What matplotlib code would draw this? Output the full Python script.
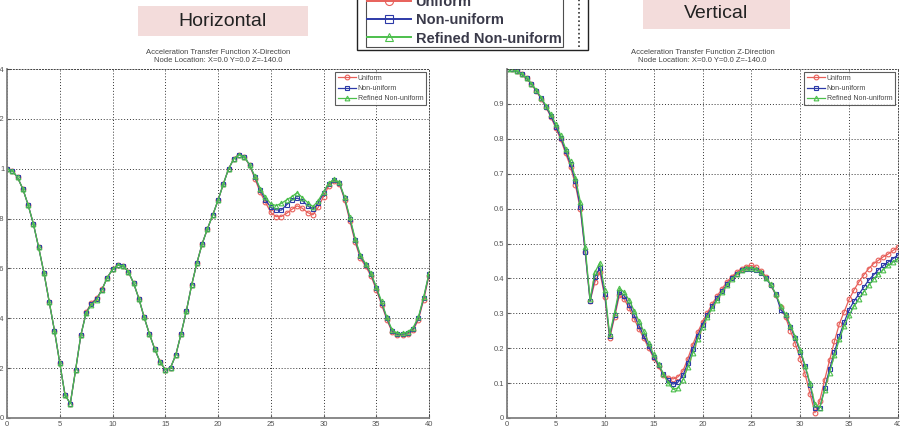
import matplotlib.pyplot as plt
from matplotlib.patches import Rectangle
from matplotlib.lines import Line2D
import numpy as np

plt.rcParams['font.family'] = ['Liberation Sans', 'DejaVu Sans']

# frequency axis (both panels)
x = np.arange(0, 40.5, 0.5)

# --- horizontal (X-direction) transfer function ---
hx_uniform = [1.0, 0.992, 0.965, 0.919, 0.855, 0.779, 0.684, 0.583, 0.466, 0.35,
              0.221, 0.092, 0.058, 0.192, 0.332, 0.425, 0.462, 0.48, 0.516, 0.563,
              0.596, 0.614, 0.61, 0.587, 0.541, 0.479, 0.404, 0.337, 0.277, 0.226,
              0.194, 0.202, 0.253, 0.338, 0.429, 0.533, 0.622, 0.699, 0.759, 0.814,
              0.873, 0.938, 0.999, 1.04, 1.057, 1.047, 1.013, 0.96, 0.905, 0.865,
              0.825, 0.808, 0.808, 0.821, 0.837, 0.851, 0.841, 0.824, 0.815, 0.845,
              0.888, 0.932, 0.952, 0.94, 0.876, 0.79, 0.705, 0.64, 0.608, 0.57,
              0.515, 0.455, 0.395, 0.345, 0.333, 0.332, 0.337, 0.352, 0.395, 0.475,
              0.57]
hx_nonuniform = [1.0, 0.992, 0.965, 0.919, 0.855, 0.779, 0.684, 0.583, 0.466, 0.35,
                 0.221, 0.092, 0.058, 0.192, 0.332, 0.422, 0.458, 0.477, 0.515, 0.563,
                 0.596, 0.614, 0.61, 0.587, 0.541, 0.479, 0.404, 0.337, 0.277, 0.226,
                 0.194, 0.202, 0.253, 0.338, 0.429, 0.533, 0.622, 0.699, 0.759, 0.814,
                 0.873, 0.938, 0.999, 1.04, 1.057, 1.047, 1.015, 0.966, 0.915, 0.875,
                 0.845, 0.835, 0.834, 0.855, 0.875, 0.882, 0.872, 0.851, 0.837, 0.861,
                 0.904, 0.94, 0.956, 0.943, 0.882, 0.8, 0.714, 0.648, 0.615, 0.577,
                 0.522, 0.463, 0.4, 0.35, 0.336, 0.336, 0.342, 0.358, 0.401, 0.482,
                 0.578]
hx_refined = [1.0, 0.992, 0.965, 0.919, 0.855, 0.779, 0.684, 0.583, 0.466, 0.35,
              0.221, 0.092, 0.058, 0.192, 0.332, 0.42, 0.454, 0.475, 0.514, 0.563,
              0.596, 0.614, 0.61, 0.587, 0.541, 0.479, 0.404, 0.337, 0.277, 0.226,
              0.194, 0.202, 0.253, 0.338, 0.429, 0.533, 0.622, 0.699, 0.759, 0.814,
              0.873, 0.938, 0.999, 1.04, 1.057, 1.047, 1.015, 0.969, 0.92, 0.885,
              0.86, 0.852, 0.861, 0.875, 0.888, 0.904, 0.884, 0.864, 0.848, 0.872,
              0.908, 0.942, 0.958, 0.945, 0.886, 0.805, 0.72, 0.653, 0.619, 0.581,
              0.527, 0.468, 0.404, 0.354, 0.339, 0.339, 0.346, 0.363, 0.406, 0.487,
              0.581]

# --- vertical (Z-direction) transfer function ---
vz_uniform = [1.0, 0.999, 0.993, 0.985, 0.973, 0.956, 0.936, 0.914, 0.89, 0.862,
              0.83, 0.798, 0.758, 0.72, 0.668, 0.598, 0.475, 0.335, 0.39, 0.418,
              0.348, 0.228, 0.288, 0.352, 0.34, 0.315, 0.285, 0.255, 0.228, 0.2,
              0.172, 0.148, 0.122, 0.115, 0.112, 0.118, 0.135, 0.17, 0.21, 0.245,
              0.275, 0.302, 0.327, 0.35, 0.37, 0.39, 0.405, 0.418, 0.428, 0.434,
              0.437, 0.432, 0.422, 0.405, 0.38, 0.352, 0.318, 0.288, 0.25, 0.212,
              0.17, 0.125, 0.07, 0.015, 0.05, 0.11, 0.165, 0.22, 0.27, 0.305,
              0.34, 0.367, 0.39, 0.41, 0.428, 0.442, 0.452, 0.462, 0.47, 0.48,
              0.49]
vz_nonuniform = [1.0, 0.999, 0.993, 0.985, 0.974, 0.957, 0.938, 0.916, 0.892, 0.865,
                 0.835, 0.803, 0.765, 0.727, 0.678, 0.605, 0.477, 0.335, 0.405, 0.43,
                 0.355, 0.235, 0.295, 0.362, 0.35, 0.325, 0.295, 0.265, 0.235, 0.205,
                 0.176, 0.152, 0.126, 0.108, 0.097, 0.103, 0.122, 0.158, 0.197, 0.235,
                 0.267, 0.295, 0.32, 0.343, 0.363, 0.383, 0.4, 0.414, 0.423, 0.428,
                 0.427, 0.425, 0.415, 0.4, 0.38, 0.355, 0.31, 0.295, 0.262, 0.228,
                 0.19, 0.148, 0.095, 0.03, 0.03, 0.085, 0.14, 0.19, 0.235, 0.275,
                 0.31, 0.335, 0.355, 0.375, 0.395, 0.41, 0.425, 0.437, 0.447, 0.457,
                 0.467]
vz_refined = [1.0, 0.999, 0.994, 0.986, 0.975, 0.958, 0.94, 0.918, 0.895, 0.87,
              0.842, 0.81, 0.772, 0.735, 0.688, 0.62, 0.49, 0.34, 0.418, 0.445,
              0.368, 0.24, 0.302, 0.372, 0.36, 0.338, 0.308, 0.278, 0.248, 0.215,
              0.182, 0.155, 0.127, 0.1, 0.082, 0.086, 0.11, 0.145, 0.185, 0.225,
              0.26, 0.29, 0.315, 0.338, 0.36, 0.38, 0.398, 0.412, 0.423, 0.43,
              0.43, 0.427, 0.418, 0.4, 0.383, 0.355, 0.322, 0.297, 0.265, 0.232,
              0.195, 0.15, 0.1, 0.04, 0.03, 0.08, 0.13, 0.18, 0.225, 0.265,
              0.295, 0.32, 0.342, 0.362, 0.38, 0.398, 0.413, 0.425, 0.437, 0.447,
              0.457]

labels = ['Uniform', 'Non-uniform', 'Refined Non-uniform']
colors = ['#e8605a', '#2d3aa8', '#4cbf4c']
markers = ['o', 's', '^']

W, H = 900, 434
fig = plt.figure(figsize=(9, 4.34), dpi=100)


def px(l, t, w, h):
    return [l / W, 1 - (t + h) / H, w / W, h / H]


def style_axes(ax, ymax, yticks):
    ax.set_xlim(0, 40)
    ax.set_ylim(0, ymax)
    ax.set_xticks(np.arange(0, 41, 5))
    ax.set_yticks(yticks)
    ax.set_yticklabels([('%g' % v) for v in yticks])
    ax.grid(True, color='#333333', linestyle=(0, (1, 2)), linewidth=0.7)
    ax.tick_params(direction='in', length=2, labelsize=5.5, colors='#555555', pad=2)
    for s in ['left', 'bottom']:
        ax.spines[s].set_color('#808080')
        ax.spines[s].set_linewidth(1.3)
    for s in ['top', 'right']:
        ax.spines[s].set_color('#444444')
        ax.spines[s].set_linestyle((0, (1, 2)))
        ax.spines[s].set_linewidth(0.7)


ax1 = fig.add_axes(px(7, 69, 422, 349))
ax2 = fig.add_axes(px(507, 69, 391, 349))

handles = []
for series, ax in [((hx_uniform, hx_nonuniform, hx_refined), ax1),
                   ((vz_uniform, vz_nonuniform, vz_refined), ax2)]:
    hs = []
    for y, c, m, lab in zip(series, colors, markers, labels):
        h, = ax.plot(x, y, color=c, marker=m, markersize=3.4, markerfacecolor='none',
                     markeredgewidth=0.8, linewidth=0.9, label=lab)
        hs.append(h)
    handles = hs
    leg = ax.legend(loc='upper right', fontsize=5, frameon=True, fancybox=False,
                    borderaxespad=0.4, handlelength=2.6, handletextpad=0.3,
                    borderpad=0.4, labelspacing=0.5)
    leg.get_frame().set_edgecolor('#333333')
    leg.get_frame().set_linewidth(0.8)
    for t in leg.get_texts():
        t.set_color('#444444')

style_axes(ax1, 1.4, np.round(np.arange(0, 1.41, 0.2), 1))
style_axes(ax2, 1.0, np.round(np.arange(0, 0.91, 0.1), 1))

ax1.set_title('Acceleration Transfer Function X-Direction\nNode Location: X=0.0 Y=0.0 Z=-140.0',
              fontsize=5.5, color='#444444', pad=5, linespacing=1.3)
ax2.set_title('Acceleration Transfer Function Z-Direction\nNode Location: X=0.0 Y=0.0 Z=-140.0',
              fontsize=5.5, color='#444444', pad=5, linespacing=1.3)

# pink heading boxes
fig.patches.append(Rectangle((138 / W, 1 - 36 / H), 170 / W, 30 / H, transform=fig.transFigure,
                             facecolor='#f3dcdb', edgecolor='none'))
fig.text(223 / W, 1 - 22 / H, 'Horizontal', fontsize=14, ha='center', va='center', color='#222222')
fig.patches.append(Rectangle((643 / W, 1 - 29 / H), 147 / W, 31 / H, transform=fig.transFigure,
                             facecolor='#f3dcdb', edgecolor='none'))
fig.text(716 / W, 1 - 14 / H, 'Vertical', fontsize=14, ha='center', va='center', color='#222222')

# cropped big legend at the top centre
fig.patches.append(Rectangle((357 / W, 1 - 50 / H), 231 / W, 52 / H, transform=fig.transFigure,
                             facecolor='white', edgecolor='#222222', linewidth=1.0))
big = fig.legend(handles, labels, loc='lower left', bbox_to_anchor=(366 / W, 1 - 47 / H),
                 frameon=True, fancybox=False, handlelength=3.0,
                 handletextpad=0.3, borderpad=0.1, labelspacing=0.3, borderaxespad=0,
                 prop={'weight': 'bold', 'size': 10.5}, markerscale=1.7)
big.get_frame().set_edgecolor('#222222')
big.get_frame().set_linewidth(0.8)
for t in big.get_texts():
    t.set_color('#3a3a4a')
for lh in big.legend_handles:
    lh.set_linewidth(1.4)
fig.lines.append(Line2D([579 / W, 579 / W], [1 - 47 / H, 1.0], transform=fig.transFigure,
                        color='#333333', linestyle=(0, (1, 1.5)), linewidth=1.2))

fig.savefig('out.png', dpi=100)
